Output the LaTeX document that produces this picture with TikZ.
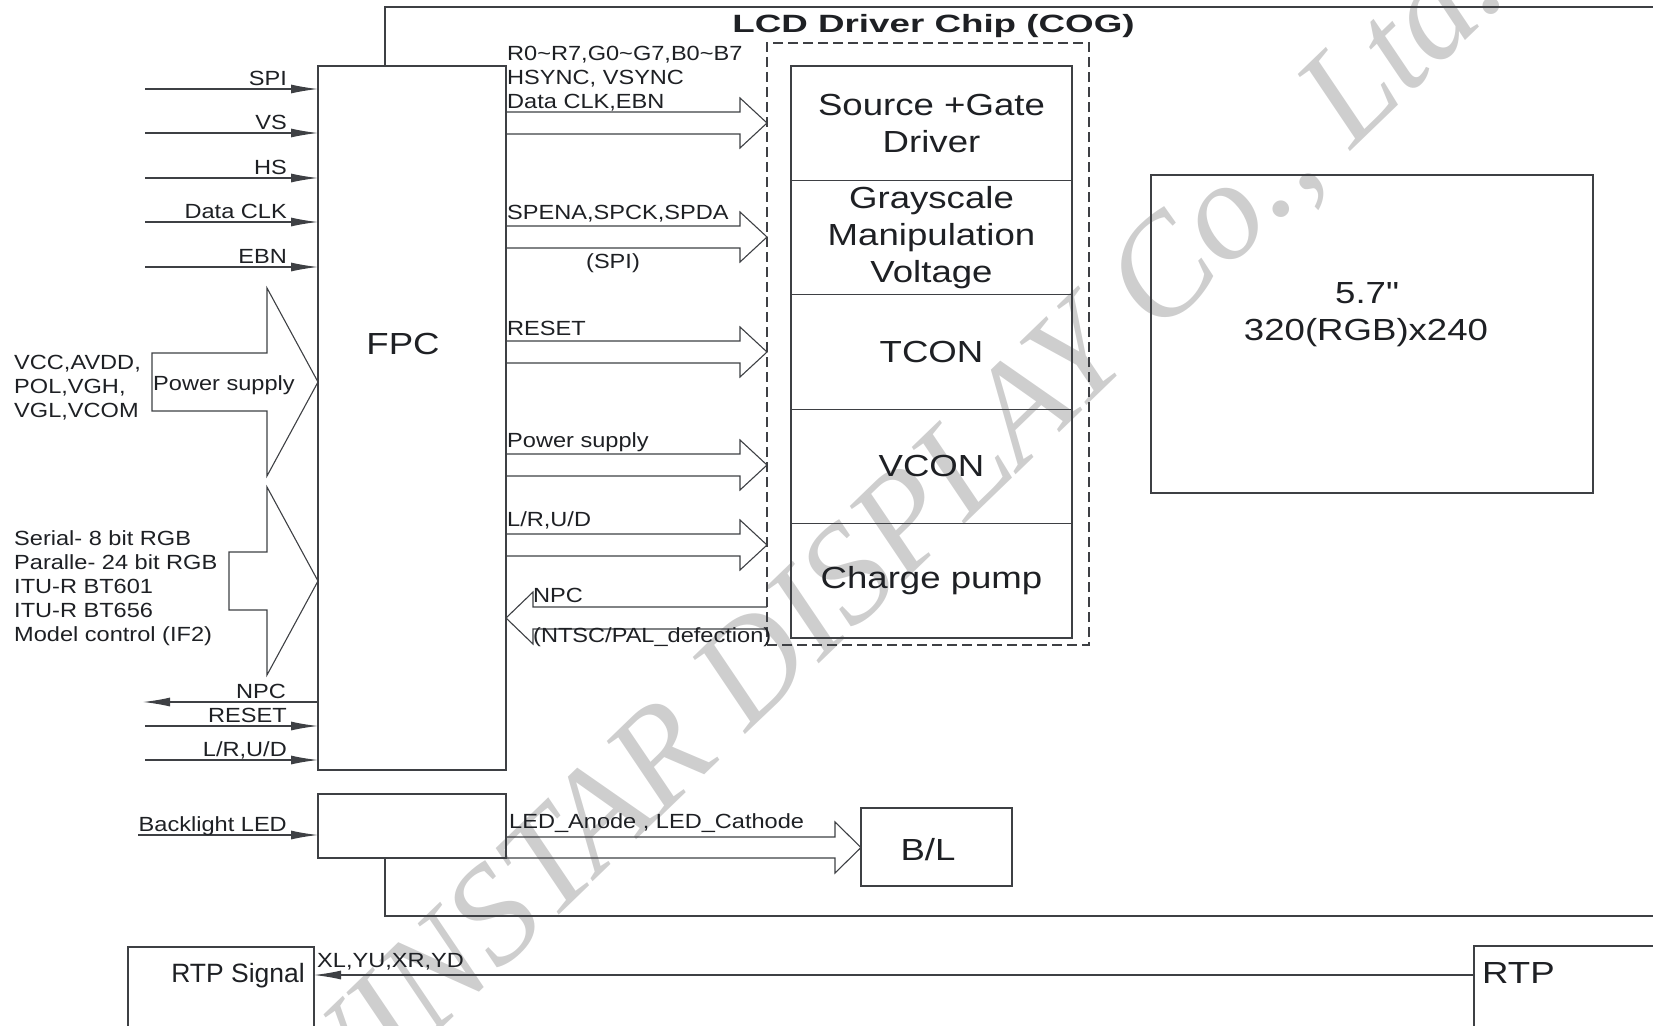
\documentclass[tikz,border=0pt]{standalone}
\usepackage{fontspec}
\setmainfont{Liberation Sans}
\newfontfamily\lblfont{Liberation Sans}[FakeStretch=1.15]
\newfontfamily\bigfont{Liberation Sans}[FakeStretch=1.2]
\newfontfamily\ttlfont{Liberation Sans}[FakeStretch=1.47]
\newfontfamily\wmfont{Liberation Serif}
\usetikzlibrary{arrows.meta,positioning}
\definecolor{linec}{RGB}{62,64,68}
\definecolor{textc}{RGB}{30,32,36}
\definecolor{wmc}{RGB}{206,206,206}
\tikzset{
  box/.style={draw=linec,line width=1.2pt,inner sep=0pt,outer sep=0pt},
  lbl/.style={text=textc,inner sep=0pt,font=\lblfont\fontsize{20.5}{24}\selectfont},
  rtp lbl/.style={lbl,font=\fontsize{26.5}{30}\selectfont},
  big lbl/.style={text=textc,inner sep=0pt,align=center,font=\bigfont\fontsize{30.5}{37}\selectfont},
  ttl/.style={text=textc,inner sep=0pt,font=\ttlfont\bfseries\fontsize{25}{30}\selectfont},
  wm/.style={text=wmc,inner sep=0pt,font=\wmfont\itshape\fontsize{140}{140}\selectfont},
  in wire/.style={draw=linec,line width=1.2pt,-{Latex[length=27pt,width=9pt]}},
  fat arrow/.style={draw=linec,line width=1.1pt},
  chip edge/.style={draw=linec,line width=1.3pt},
  cog edge/.style={draw=linec,line width=1.1pt,dash pattern=on 10pt off 5pt},
}

\begin{document}
\begin{tikzpicture}[x=1pt,y=-1pt]
  \useasboundingbox (0,0) rectangle (1653,1025);
  \node[wm,rotate=44,anchor=base east] (wmark) at (1511,-4) {WINSTAR DISPLAY Co., Ltd.};

  \draw[chip edge] (385,66) -- (385,7) -- (1660,7);
  \draw[chip edge] (385,858) -- (385,916) -- (1660,916);
  \node[ttl,anchor=base] (title) at (933.5,33) {LCD Driver Chip (COG)};

  \node[box,minimum width=188,minimum height=704] (fpc) at (412,418) {};
  \node[big lbl] (fpc lbl) at (403,344) {FPC};
  \node[box,minimum width=188,minimum height=64] (ledbox) at (412,826) {};
  \node[box,cog edge,minimum width=322,minimum height=602] (cog) at (928,344) {};
  \foreach \i/\t in {1/{Source +Gate\\Driver},2/{Grayscale\\Manipulation\\Voltage},3/TCON,4/VCON,5/Charge pump}{
    \node[box,big lbl,minimum width=281,minimum height=114.4] (cell\i) at (931.5,{66+114.4*(\i-0.5)}) {\t};
  }
  \node[box,minimum width=442,minimum height=318] (panel) at (1372,334) {};
  \node[big lbl] (panel lbl) at (1366,315) {5.7\textquotedbl\\320(RGB)x240};
  \node[box,minimum width=151,minimum height=78] (bl) at (936.5,847) {};
  \node[big lbl] (bl lbl) at (928,850) {B/L};
  \node[box,minimum width=186,minimum height=100] (rtpsig) at (221,997) {};
  \node[rtp lbl,anchor=base east] (rtpsig lbl) at (305,982) {RTP Signal};
  \node[box,minimum width=226,minimum height=100] (rtp) at (1587,996) {};
  \node[big lbl,anchor=base west] (rtp lbl) at (1482,983) {RTP};

  \foreach \n/\y/\t in {spi/89/SPI,vs/133/VS,hs/178/HS,clk/222/Data CLK,ebn/267/EBN,rst/726/RESET,lr/760/{L/R,U/D}}{
    \coordinate (\n) at (145,\y);
    \draw[in wire] (\n) -- (fpc.west |- \n);
    \node[lbl,anchor=base east] (\n lbl) at (287,\y-4) {\t};
  }
  \coordinate (npc) at (143,702);
  \draw[in wire] (fpc.west |- npc) -- (npc);
  \node[lbl,anchor=base east] (npc lbl) at (286,698) {NPC};
  \coordinate (bled) at (138,835);
  \draw[in wire] (bled) -- (ledbox.west |- bled);
  \node[lbl,anchor=base east] (bled lbl) at (287,831) {Backlight LED};
  \coordinate (rtpy) at (1474,975);
  \draw[in wire] (rtp.west |- rtpy) -- (rtpsig.east |- rtpy);
  \node[lbl,anchor=base west] (xy lbl) at (317,967) {XL,YU,XR,YD};

  \draw[fat arrow] (152,353) -- (267,353) -- (267,288) -- (318,382) -- (267,476) -- (267,411) -- (152,411) -- cycle;
  \draw[fat arrow] (229,552) -- (267,552) -- (267,487) -- (318,581) -- (267,675) -- (267,610) -- (229,610) -- cycle;
  \node[lbl,anchor=base west] (pwr in) at (153,390) {Power supply};
  \foreach \n/\y/\t in {vcc/369/{VCC,AVDD,},pol/393/{POL,VGH,},vgl/417/{VGL,VCOM},
                        s1/545/{Serial- 8 bit RGB},s2/569/{Paralle- 24 bit RGB},s3/593/ITU-R BT601,
                        s4/617/ITU-R BT656,s5/641/{Model control (IF2)}}{
    \node[lbl,anchor=base west] (\n) at (14,\y) {\t};
  }

  \foreach \y in {123,237,352,465,545}{
    \draw[fat arrow] (506,\y-11) -- (740,\y-11) -- (740,\y-25) -- (767,\y) -- (740,\y+25) -- (740,\y+11) -- (506,\y+11);
  }
  \draw[fat arrow] (767,607) -- (533,607) -- (533,592) -- (506,618) -- (533,644) -- (533,629) -- (767,629);
  \draw[fat arrow] (506,837) -- (835,837) -- (835,822) -- (861,847.5) -- (835,873) -- (835,858) -- (506,858);
  \foreach \n/\x/\y/\t in {rgb/507/60/{R0\textasciitilde R7,G0\textasciitilde G7,B0\textasciitilde B7},
                           sync/507/84/{HSYNC, VSYNC},dclk/507/108/{Data CLK,EBN},
                           spena/507/219/{SPENA,SPCK,SPDA},reset/507/335/RESET,
                           power/507/447/Power supply,lrud/507/526/{L/R,U/D},
                           npco/533/602/NPC,ntsc/533/642/{(NTSC/PAL\_defection)},
                           led/509/828/{LED\_Anode , LED\_Cathode}}{
    \node[lbl,anchor=base west] (\n) at (\x,\y) {\t};
  }
  \node[lbl,anchor=base] (spi out) at (613,268) {(SPI)};
\end{tikzpicture}
\end{document}
